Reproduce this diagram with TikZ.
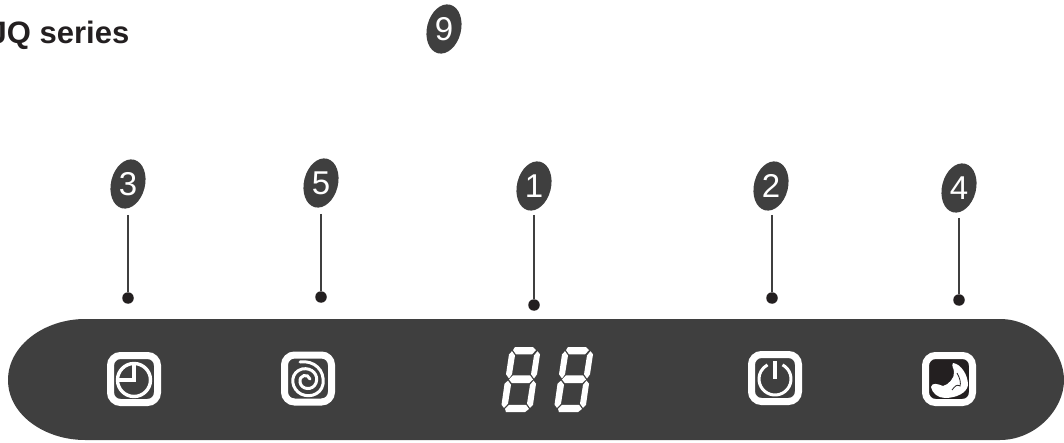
\documentclass[tikz,border=0pt]{standalone}
\usepackage{fontspec}
\setmainfont{Liberation Sans}
\usetikzlibrary{shapes.geometric}
\definecolor{panel}{HTML}{3F3F3F}
\definecolor{inkdark}{HTML}{231F20}
\tikzset{
  x=1pt,y=-1pt,
  badge/.style={ellipse,fill=panel,text=white,inner sep=0pt,minimum width=34pt,minimum height=50pt,rotate=-14},
  leader/.style={draw=panel,line width=1.3pt},
  tipdot/.style={circle,fill=inkdark,inner sep=0pt,minimum size=11.5pt},
  frame/.style={draw=white,line width=7pt,rounded corners=10pt},
  glyphline/.style={draw=white,line width=3.4pt},
  seg/.style={fill=white,draw=none},
}
\newcommand{\badgetext}[1]{\fontsize{33}{33}\selectfont #1}
\newcommand{\sevenseg}[2]{%
 \begin{scope}[shift={(#1,#2)},yscale=1.05]
  \fill[seg] (8,0)--(26,0)--(29,3)--(25,7)--(9,7)--(6,3)--cycle;
  \fill[seg] (5,4)--(8,8)--(5,26)--(2,30)--(-1,26)--(2,7)--cycle;
  \fill[seg] (30.5,4)--(33,7)--(30,26)--(27,30)--(24,26)--(27,8)--cycle;
  \fill[seg] (6,27)--(23,27)--(26,31)--(22,34.5)--(5,34.5)--(2,31)--cycle;
  \fill[seg] (1,32)--(4,36)--(1,54)--(-3,58)--(-5.5,55)--(-2.5,35)--cycle;
  \fill[seg] (26.5,32)--(29,35)--(26,55)--(23,58)--(20,54)--(23,36)--cycle;
  \fill[seg] (2,55)--(19,55)--(22,59)--(18,62)--(-1,62)--(-2,59)--cycle;
 \end{scope}}
\begin{document}
\begin{tikzpicture}
\useasboundingbox (0,0) rectangle (1064,443);
\node[anchor=base east,font=\bfseries\fontsize{31}{31}\selectfont,text=inkdark,inner sep=0pt] (title) at (129.5,44) {JQ series};
% panel
\fill[panel] (85,319) -- (1000,319) .. controls (1035,319) and (1064,350) .. (1064,380)
  .. controls (1064,410) and (1035,440) .. (1000,440) -- (85,440)
  .. controls (45,440) and (8,415) .. (8,380) .. controls (8,345) and (45,319) .. (85,319) -- cycle;
% badges
\node[badge] (b9) at (444,29) {};
\node[text=white,inner sep=0pt] (t9) at (444,29) {\badgetext{9}};
\foreach \n/\bx/\by/\lx/\ly/\ty in {3/128/184/128/298/215,5/321/183/321/297/214,1/534/186/534/305/215,2/771/186/772/298/215,4/959/188/959/300/218}{
  \node[badge] (b\n) at (\bx,\by) {};
  \node[text=white,inner sep=0pt] (t\n) at (\bx,\by) {\badgetext{\n}};
  \node[tipdot] (d\n) at (\lx,\ly) {};
  \coordinate (s\n) at (\lx,\ty);
  \draw[leader] (s\n) -- (d\n);
}
% clock icon
\draw[frame] (110.5,355.5) rectangle (157.5,402.5);
\draw[glyphline] (134,380) circle (16.5);
\draw[glyphline] (134,364) -- (134,380) -- (118,380);
% swirl icon
\draw[frame] (284.5,355) rectangle (331.5,402);
\draw[white,line width=3pt,line cap=round] (300,362) .. controls (314,360) and (325,370) .. (323,384)
  .. controls (321,396) and (306,399) .. (298,392) .. controls (290,385) and (291,372) .. (302,369)
  .. controls (312,367) and (319,375) .. (316,383) .. controls (313,391) and (301,390) .. (300,382)
  .. controls (299,375) and (308,373) .. (310,379);
% digits
\sevenseg{507}{347}
\sevenseg{560}{347}
% power icon
\draw[frame] (751.5,354.5) rectangle (798.5,401.5);
\draw[white,line width=3pt] (775,379) ++(-62:16) arc[start angle=-62,delta angle=304,radius=16];
\draw[white,line width=3.2pt] (775,361) -- (775,379);
% moon icon
\draw[frame,fill=inkdark] (925.5,355.5) rectangle (972.5,402.5);
\fill[white] (953,363) .. controls (961,364) and (968,375) .. (968,385) .. controls (967,393) and (956,398) .. (945,398)
  .. controls (938,398) and (932,393) .. (931,387) .. controls (932,382) and (938,384) .. (943,386)
  .. controls (948,385) and (955,378) .. (954,372) .. controls (954,368) and (951,366) .. (953,363) -- cycle;
\draw[inkdark,line width=0.8pt] (957,373) .. controls (960,378) and (961,383) .. (960,386) .. controls (957,384) and (955,386) .. (952,390);
\end{tikzpicture}
\end{document}
